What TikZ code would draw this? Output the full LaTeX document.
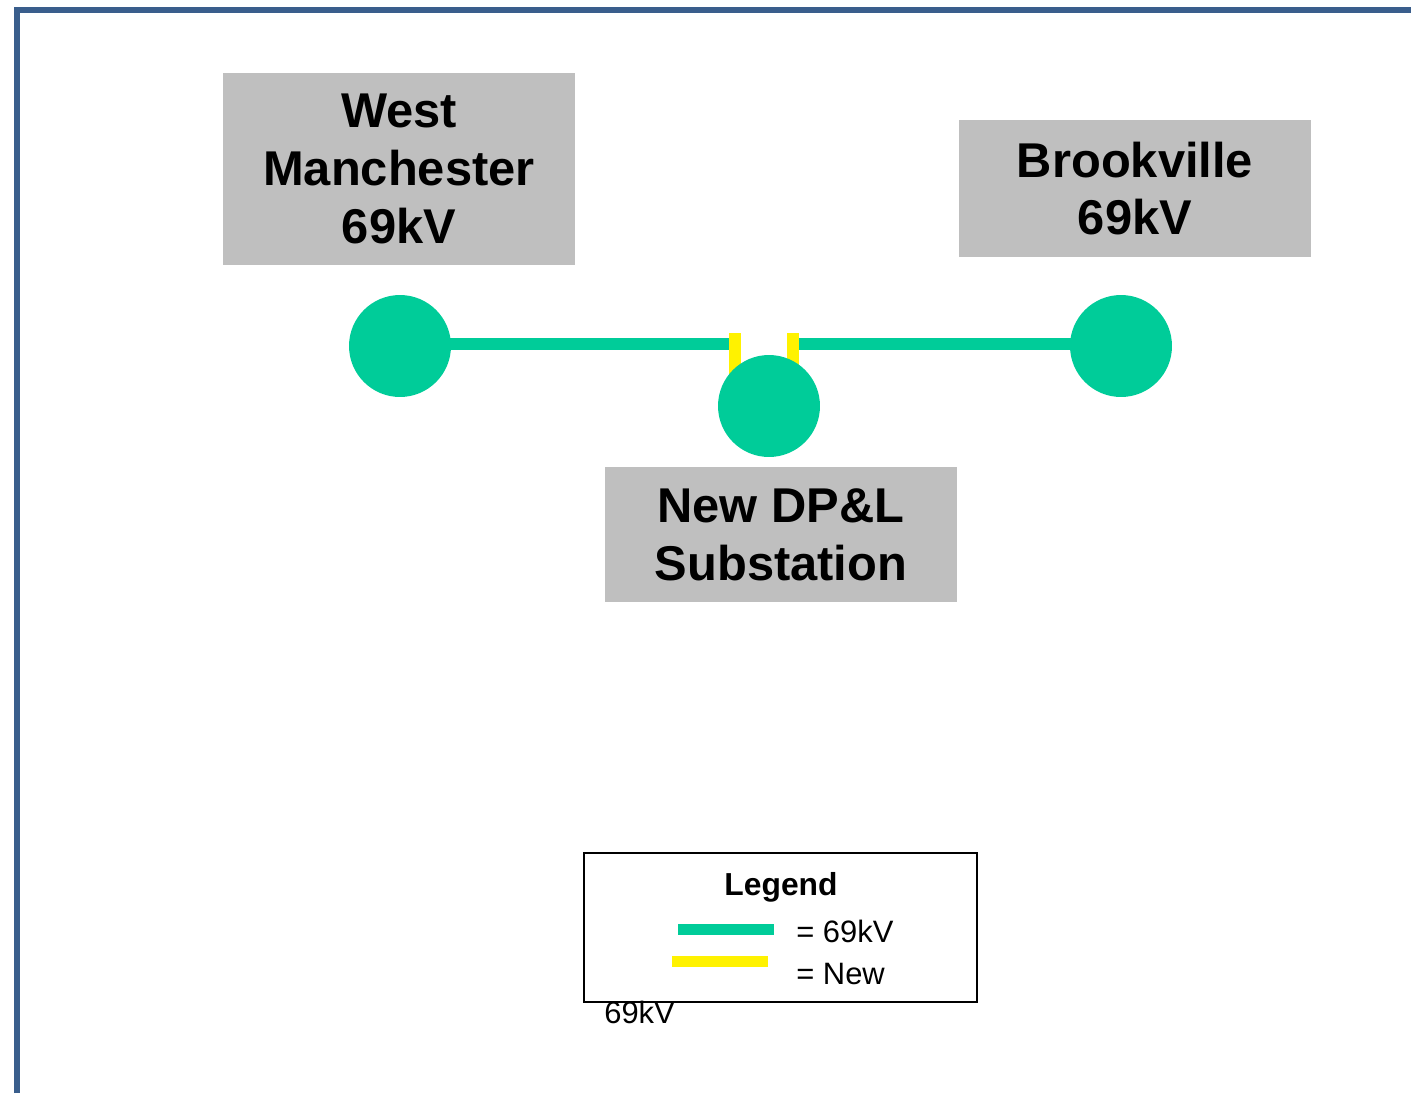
\documentclass[tikz,border=0pt]{standalone}
\usepackage{fontspec}
\setmainfont{Liberation Sans}
\usetikzlibrary{positioning,backgrounds}
\definecolor{lineteal}{HTML}{00CC99}
\definecolor{boxgray}{HTML}{BFBFBF}
\definecolor{frameblue}{HTML}{3A5E8C}
\begin{document}
\begin{tikzpicture}[
  x=0.02cm, y=-0.02cm,
  station/.style={rectangle,fill=boxgray,inner sep=0pt,minimum width=7.04cm,align=center,font=\fontsize{27.8}{32.9}\selectfont\bfseries},
  bus/.style={circle,fill=lineteal,inner sep=0pt,minimum size=2.04cm},
  kvline/.style={draw=lineteal,line width=0.24cm},
  newline/.style={draw=yellow,line width=0.24cm},
  legendtext/.style={inner sep=0pt,font=\fontsize{17.6}{21}\selectfont}
  ]
  \useasboundingbox (0,0) rectangle (1411,1093);
  \draw[frameblue,line width=0.12cm] (17,1093) -- (17,10) -- (1411,10);

  % substations
  \node[station, minimum height=3.84cm] (westman) at (399,169) {West\\Manchester\\69kV};
  \node[station, minimum height=2.74cm] (brookville) at (1135,188.5) {Brookville\\69kV};
  \node[station, minimum height=2.70cm] (newsub) at (781,534.5) {New DP\&L\\Substation};

  % buses
  \node[bus] (westbus) at (400,346) {};
  \node[bus] (brookbus) at (1121,346) {};
  \node[bus] (newbus) at (769,406) {};

  % lines
  \coordinate (tapL) at (729,343.5);
  \coordinate (tapR) at (799,343.5);
  \coordinate (stubL) at (735,333);
  \coordinate (stubR) at (792.5,333);
  \begin{scope}[on background layer]
    \draw[kvline] (westbus |- tapL) -- (tapL);
    \draw[kvline] (tapR) -- (brookbus |- tapR);
    \draw[newline] (stubL) -- (stubL |- newbus);
    \draw[newline] (stubR) -- (stubR |- newbus);
  \end{scope}

  % legend
  \node[draw=black,line width=0.04cm,inner sep=0pt,minimum width=7.86cm,minimum height=2.98cm] (legend) at (780.5,927.5) {};
  \node[anchor=base,inner sep=0pt,font=\fontsize{18.1}{22}\selectfont\bfseries] (legendtitle) at (781,895) {Legend};
  \draw[line width=0.22cm,lineteal] (678,929.5) -- (774,929.5);
  \draw[line width=0.22cm,yellow] (672,961.5) -- (768,961.5);
  \node[legendtext,anchor=base west] (keykv) at (796,942) {= 69kV};
  \node[legendtext,anchor=base west] (keynew) at (796,984) {= New};
  \node[legendtext,anchor=base west] (stray) at (604,1023) {69kV};
\end{tikzpicture}
\end{document}
